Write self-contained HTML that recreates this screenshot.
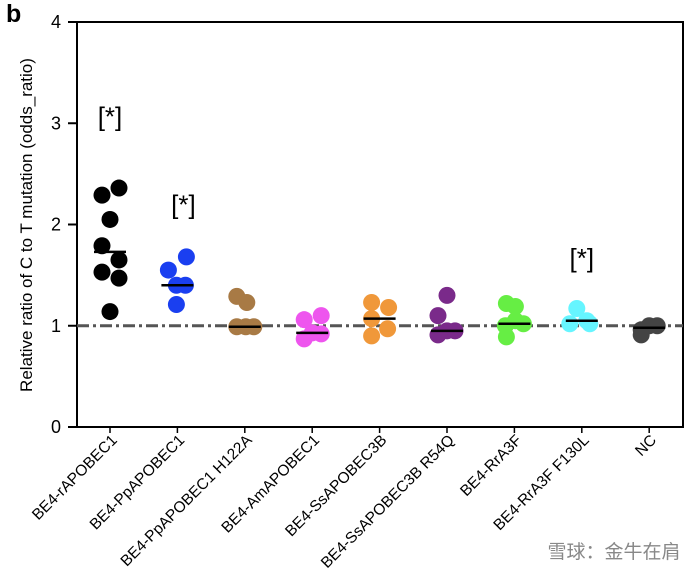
<!DOCTYPE html>
<html><head><meta charset="utf-8"><style>
body{margin:0;background:#fff;width:692px;height:575px;overflow:hidden;font-family:"Liberation Sans",Arial,sans-serif}
</style></head><body>
<svg id="chart" width="692" height="575" xmlns="http://www.w3.org/2000/svg" font-family="Liberation Sans, Arial, sans-serif">
<text x="6" y="22" font-size="25" font-weight="bold">b</text>
<g id="plot"></g>
<text x="614" y="558" font-size="19" fill="#888" text-anchor="middle" font-family="Liberation Sans, Noto Sans CJK SC, sans-serif">雪球：金牛在肩</text>
</svg>
<script>
const categories=["BE4-rAPOBEC1","BE4-PpAPOBEC1","BE4-PpAPOBEC1 H122A","BE4-AmAPOBEC1","BE4-SsAPOBEC3B","BE4-SsAPOBEC3B R54Q","BE4-RrA3F","BE4-RrA3F F130L","NC"];
const colors=["#000000","#1a3ff0","#a87a45","#ee55ee","#f0983a","#7a2a8a","#66ee44","#66f5ff","#444444"];
const values=[
 [2.29,2.36,2.05,1.79,1.65,1.53,1.47,1.14],
 [1.55,1.68,1.40,1.40,1.21],
 [1.29,1.23,0.99,0.99,0.99],
 [1.06,1.10,0.92,0.87,0.93],
 [1.23,1.18,1.07,0.97,0.90],
 [1.30,1.10,0.91,0.95,0.95],
 [1.22,1.19,1.05,1.02,0.89,1.00],
 [1.17,1.02,1.02,1.05],
 [0.96,1.00,1.00,0.91]
];
const offsets=[
 [-8,9,0,-8,9,-8,9,0],
 [-9,9,-1,8,-1],
 [-8,2,-8,1,9],
 [-8,9,9,-8,0],
 [-8,9,-8,8,-8],
 [0,-9,-9,0,8],
 [-8,1,1,9,-8,-9],
 [-5,-12,8,5],
 [-8,0,8,-8]
];
const medians=[1.73,1.40,0.99,0.93,1.07,0.95,1.02,1.05,0.98];
const stars=[{i:0,y:3.0},{i:1,y:2.13},{i:7,y:1.6}];
const yTicks=[0,1,2,3,4];
const L=77,R=683,T=22,B=427;
const yS=v=>B-(v/4)*(B-T);
const xS=i=>110+i*67.4;
const NS="http://www.w3.org/2000/svg";
const g=document.getElementById('plot');
function mk(t,a,p){const e=document.createElementNS(NS,t);for(const k in a)e.setAttribute(k,a[k]);(p||g).appendChild(e);return e;}
let fr=mk('rect',{x:L,y:T,width:R-L,height:B-T,fill:'none',stroke:'#000','stroke-width':2});


let ref=mk('line',{x1:L,x2:R,y1:yS(1),y2:yS(1),stroke:'#555','stroke-width':3,'stroke-dasharray':'12,4,3,4'});


yTicks.forEach(v=>{
 let t=mk('line',{x1:68,x2:L,y1:yS(v),y2:yS(v),stroke:'#000','stroke-width':2});
 
 
 let lb=mk('text',{x:61,y:yS(v)+6,'font-size':18,'text-anchor':'end'});lb.textContent=v;
 
 
});
let yl=mk('text',{x:0,y:0,'font-size':17,'text-anchor':'middle',transform:'translate(32,225) rotate(-90)'});
yl.textContent='Relative ratio of C to T mutation (odds_ratio)';


categories.forEach((c,i)=>{
 const x=xS(i);
 let t=mk('line',{x1:x,x2:x,y1:B,y2:B+6,stroke:'#000','stroke-width':1.5});
 
 
 let lb=mk('text',{x:0,y:0,'font-size':15.5,'text-anchor':'end',transform:`translate(${x+8},${B+14}) rotate(-45)`});
 lb.textContent=c;
 
 
 values[i].forEach((v,j)=>{
  let d=mk('circle',{cx:x+offsets[i][j],cy:yS(v),r:8.5,fill:colors[i]});
  
  
 });
 let m=mk('line',{x1:x-16,x2:x+16,y1:yS(medians[i]),y2:yS(medians[i]),stroke:'#000','stroke-width':2.5});
 
 
});
stars.forEach(s=>{
 let t=mk('text',{x:xS(s.i)+(s.i===1?6:0),y:yS(s.y)+2,'font-size':26,'text-anchor':'middle'});
 t.textContent='[*]';
 
 
});
</script>
</body></html>
